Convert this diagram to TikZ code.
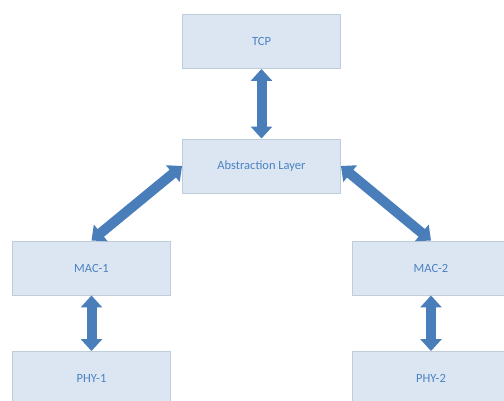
\documentclass[tikz,border=0pt]{standalone}
\usepackage{fontspec}
\setmainfont{Carlito}
\usetikzlibrary{arrows.meta}
\definecolor{boxfill}{HTML}{DCE6F2}
\definecolor{boxline}{HTML}{BFCCDA}
\definecolor{boxtext}{HTML}{4A82C2}
\definecolor{arrowblue}{HTML}{4A7EBB}
\tikzset{
  layerbox/.style={draw=boxline, line width=0.9pt, fill=boxfill, text=boxtext,
    minimum width=158pt, minimum height=54pt, inner sep=0pt,
    font=\fontsize{12.5}{15}\selectfont},
  fatlink/.style={draw=arrowblue, line width=10pt,
    {Triangle[width=21pt,length=12pt]}-{Triangle[width=21pt,length=12pt]}}
}
\begin{document}
\begin{tikzpicture}[x=1pt,y=-1pt]
  \clip (0,0) rectangle (504,401);
  \fill[white] (0,0) rectangle (504,401);
  \node[layerbox] (tcp)  at (261.5,41.5) {TCP};
  \node[layerbox] (abs)  at (261.5,166)  {Abstraction Layer};
  \node[layerbox] (mac1) at (91.5,268)   {MAC-1};
  \node[layerbox] (mac2) at (431,268)    {MAC-2};
  \node[layerbox] (phy1) at (91.5,378.5) {PHY-1};
  \node[layerbox] (phy2) at (431,378.5)  {PHY-2};
  \draw[fatlink] (tcp.south) -- (abs.north);
  \draw[fatlink] (abs.west) -- (mac1.north);
  \draw[fatlink] (abs.east) -- (mac2.north);
  \draw[fatlink] (mac1.south) -- (phy1.north);
  \draw[fatlink] (mac2.south) -- (phy2.north);
\end{tikzpicture}
\end{document}
